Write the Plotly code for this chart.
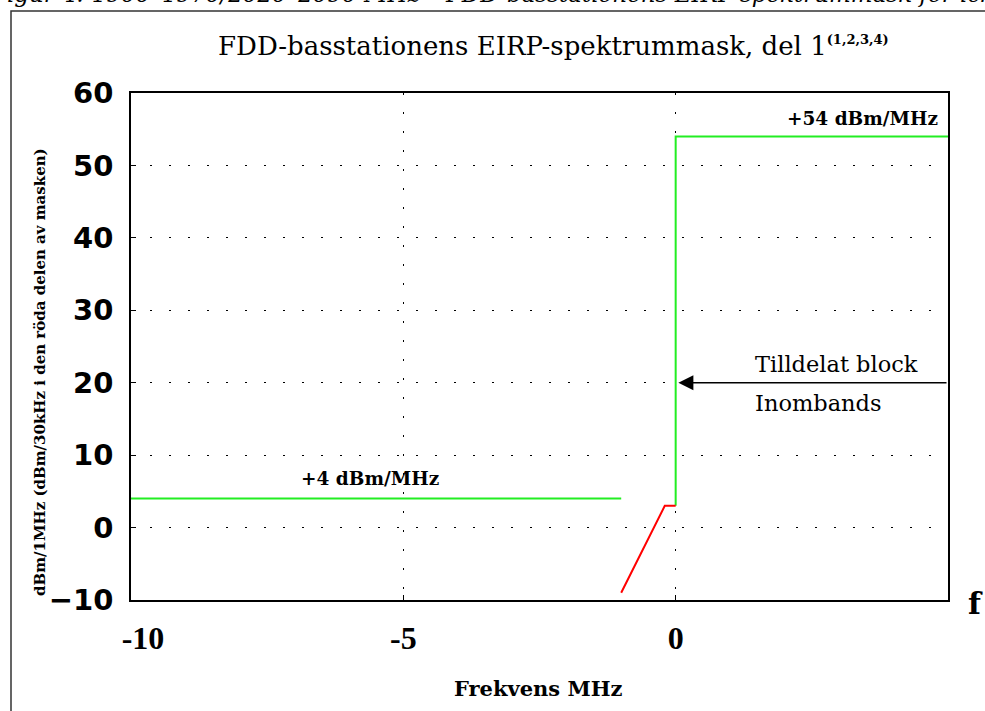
import plotly.graph_objects as go

# Data
green_low_x = [-10, -1]
green_low_y = [4, 4]
green_high_x = [0, 0, 5]
green_high_y = [3, 54, 54]
red_x = [-1, -0.2, 0]
red_y = [-9, 3, 3]

x_ticks = [-10, -5, 0]
x_tick_text = ["\u00a0\u00a0\u00a0-10", "-5", "0"]
y_ticks = [-10, 0, 10, 20, 30, 40, 50, 60]

title_text = "FDD-basstationens EIRP-spektrummask, del 1"
title_sup = "(1,2,3,4)"
caption = "Figur 4: 1900–1970/2020–2090 MHz – FDD-basstationens EIRP-spektrummask för icke bandkant"

L, R, T, B = 131, 948, 93, 600
W, H = 985, 711


def px(x):
    return (x - L) / (R - L)


def py(y):
    return (B - y) / (B - T)


fig = go.Figure()
fig.add_trace(go.Scatter(x=green_low_x, y=green_low_y, mode="lines",
                         line=dict(color="#22ee22", width=2), showlegend=False))
fig.add_trace(go.Scatter(x=green_high_x, y=green_high_y, mode="lines",
                         line=dict(color="#22ee22", width=2), showlegend=False))
fig.add_trace(go.Scatter(x=red_x, y=red_y, mode="lines",
                         line=dict(color="#ff0000", width=2), showlegend=False))

serif = "DejaVu Serif"


def note(text, x, y, size, xanchor="center", **font):
    return dict(text=text, x=px(x), y=py(y), xref="paper", yref="paper",
                xanchor=xanchor, yanchor="middle", showarrow=False,
                font=dict(family=font.pop("family", serif), size=size, color="black", **font))


annotations = [
    note(title_text + "<sup><b><span style='font-size:13px'>" + title_sup + "</span></b></sup>",
         553, 46, 26),
    note(caption, -12, -6, 23, xanchor="left", style="italic"),
    note("+54 dBm/MHz", 940, 118, 18.5, xanchor="right", weight="bold"),
    note("+4 dBm/MHz", 370, 478, 18.5, weight="bold"),
    note("Tilldelat block", 753, 364, 22.5, xanchor="left"),
    note("Inombands", 753, 403, 22.5, xanchor="left"),
    note("f", 975, 603, 30, weight="bold"),
    note("Frekvens MHz", 538, 688, 21, weight="bold"),
    dict(text="dBm/1MHz (dBm/30kHz i den röda delen av masken)", x=px(40), y=py(372),
         xref="paper", yref="paper", xanchor="center", yanchor="middle",
         textangle=-90, showarrow=False,
         font=dict(family=serif, size=15, color="black", weight="bold")),
    dict(x=0.05, y=20, ax=5, ay=20, xref="x", yref="y", axref="x", ayref="y",
         text="", showarrow=True, arrowhead=2, arrowsize=2, arrowwidth=1.5,
         arrowcolor="black"),
]

grid_dash = "1.5px,17.5px"
fig.update_layout(
    width=W, height=H,
    margin=dict(l=L, r=W - R, t=T, b=H - B),
    paper_bgcolor="white", plot_bgcolor="white",
    annotations=annotations,
    shapes=[dict(type="rect", xref="paper", yref="paper",
                 x0=px(11), x1=px(1040), y0=py(11), y1=py(760),
                 line=dict(color="#333333", width=1.5), layer="below")],
    xaxis=dict(range=[-10, 5], tickvals=x_ticks, ticktext=x_tick_text,
               showline=True, linecolor="black", linewidth=1.5, mirror=True,
               ticks="inside", ticklen=5, tickcolor="black",
               showgrid=True, gridcolor="black", gridwidth=1, griddash=grid_dash,
               zeroline=False, ticklabelstandoff=9,
               tickfont=dict(family="Liberation Serif", size=32, color="black", weight="bold")),
    yaxis=dict(range=[-10, 60], tickvals=y_ticks,
               showline=True, linecolor="black", linewidth=1.5, mirror=True,
               ticks="inside", ticklen=5, tickcolor="black",
               showgrid=True, gridcolor="black", gridwidth=1, griddash=grid_dash,
               zeroline=False, ticklabelstandoff=10,
               tickfont=dict(family="DejaVu Sans", size=29, color="black", weight="bold")),
)

fig.write_html("out.html", config={"displayModeBar": False},
               post_script="document.body.style.margin='0';document.body.style.overflow='hidden';")
